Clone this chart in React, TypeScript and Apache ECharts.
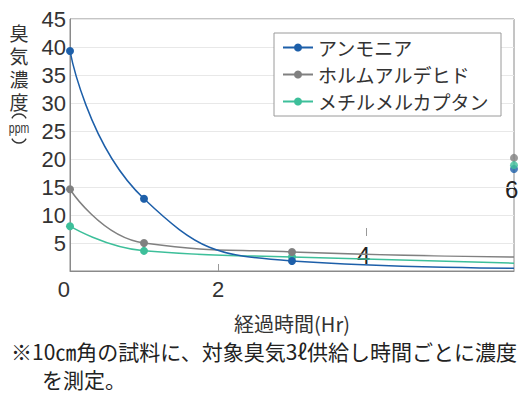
import React, { useEffect, useRef } from "react";
import * as echarts from "echarts";

const seriesNames = ["アンモニア", "ホルムアルデヒド", "メチルメルカプタン"];
const seriesColors = ["#1d5fa9", "#808080", "#3dbf9a"];
const hours = [0, 1, 3, 6];
const ammonia = [39.3, 12.9, 1.8, 0.5];
const formaldehyde = [14.6, 5.0, 3.4, 2.5];
const methylMercaptan = [8.0, 3.6, 2.5, 1.4];
const endDots = [18.2, 20.2, 18.9];
const endHour = 6;
const markedPoints = 3;
const xTickLabels = [0, 2];
const yTitleChars = ["臭", "気", "濃", "度"];
const yUnit = "ppm";
const xTitle = "経過時間(Hr)";
const note1 = "※10㎝角の試料に、対象臭気3ℓ供給し時間ごとに濃度";
const note2 = "を測定。";

const CJK = "'Noto Sans CJK JP', 'Noto Sans', sans-serif";
const NUM = "'Liberation Sans', 'Noto Sans', sans-serif";

export default function App() {
  const ref = useRef<HTMLDivElement>(null);
  useEffect(() => {
    if (!ref.current) return;
    const chart = echarts.init(ref.current, null, { renderer: "svg" });
    const all = [ammonia, formaldehyde, methylMercaptan];
    const lineSeries = all.map((vals, i) => ({
      name: seriesNames[i],
      type: "line",
      smooth: true,
      symbol: "circle",
      symbolSize: 8,
      lineStyle: { width: 1.5, color: seriesColors[i] },
      itemStyle: { color: seriesColors[i] },
      data: vals.map((v, j) =>
        j < markedPoints ? [hours[j], v] : { value: [hours[j], v], symbolSize: 0 }
      ),
      z: 3 - i + 2,
    }));
    const titleChars = yTitleChars.map((c, i) => ({
      type: "text",
      x: 19,
      y: 32 + i * 23,
      style: {
        text: c,
        fontFamily: CJK,
        fontSize: 19,
        lineHeight: 19,
        fill: "#333",
        align: "center",
        verticalAlign: "middle",
      },
    }));
    chart.setOption({
      animation: false,
      grid: {
        left: 70,
        right: 15,
        top: 19,
        bottom: 127,
        show: true,
        borderColor: "#8a8a8a",
        borderWidth: 1,
      },
      legend: {
        data: seriesNames,
        orient: "vertical",
        left: 274,
        top: 33,
        padding: [5, 12, 5, 8],
        itemGap: 8,
        itemWidth: 30,
        itemHeight: 10,
        backgroundColor: "#fff",
        borderColor: "#9a9a9a",
        borderWidth: 1,
        textStyle: { fontFamily: CJK, fontSize: 19, color: "#333" },
      },
      xAxis: {
        type: "value",
        min: 0,
        max: 6,
        interval: 2,
        name: xTitle,
        nameLocation: "middle",
        nameGap: 42,
        nameTextStyle: { fontFamily: CJK, fontSize: 20, color: "#333" },
        axisLine: { lineStyle: { color: "#8a8a8a" } },
        axisTick: { show: true, inside: true, length: 7, customValues: [2], lineStyle: { color: "#999" } },
        axisLabel: {
          customValues: xTickLabels,
          fontFamily: NUM,
          fontSize: 22,
          color: "#333",
          margin: 7,
          alignMinLabel: "right",
        },
        splitLine: { show: false },
      },
      yAxis: {
        type: "value",
        min: 0,
        max: 45,
        interval: 5,
        axisLine: { show: true, lineStyle: { color: "#8a8a8a" } },
        axisTick: { show: false },
        axisLabel: {
          fontFamily: NUM,
          fontSize: 22,
          color: "#333",
          margin: 4,
          formatter: (v: number) => (v === 0 ? "" : String(v)),
        },
        splitLine: { lineStyle: { color: "#e8e8e8" } },
      },
      graphic: [
        ...titleChars,
        {
          type: "arc",
          shape: { cx: 19, cy: 122, r: 8, startAngle: Math.PI * 1.15, endAngle: Math.PI * 1.85 },
          style: { stroke: "#333", lineWidth: 1.3, fill: "none" },
        },
        {
          type: "text",
          x: 19,
          y: 128,
          scaleX: 0.75,
          style: { text: yUnit, fontFamily: NUM, fontSize: 14, lineHeight: 12, fill: "#333", align: "center", verticalAlign: "middle" },
        },
        {
          type: "arc",
          shape: { cx: 19, cy: 135, r: 8, startAngle: Math.PI * 0.15, endAngle: Math.PI * 0.85 },
          style: { stroke: "#333", lineWidth: 1.3, fill: "none" },
        },
        {
          type: "text",
          left: 357,
          top: 243,
          style: { text: "4", fontFamily: NUM, fontSize: 24, fill: "#222" },
        },
        {
          type: "text",
          left: 505,
          top: 177,
          style: { text: "6", fontFamily: NUM, fontSize: 24, fill: "#222" },
        },
        {
          type: "line",
          shape: { x1: 366.5, y1: 228, x2: 366.5, y2: 236 },
          style: { stroke: "#999", lineWidth: 1 },
        },
        {
          type: "text",
          left: 11,
          top: 340,
          style: { text: note1, fontFamily: CJK, fontSize: 21, fill: "#222" },
        },
        {
          type: "text",
          left: 42,
          top: 368,
          style: { text: note2, fontFamily: CJK, fontSize: 21, fill: "#222" },
        },
      ],
      series: [
        ...lineSeries,
        {
          name: "end",
          type: "scatter",
          symbol: "circle",
          symbolSize: 8,
          z: 6,
          data: endDots.map((v, i) => ({
            value: [endHour, v],
            itemStyle: { color: seriesColors[i] },
          })),
        },
      ],
    });
    return () => chart.dispose();
  }, []);
  return (
    <div
      ref={ref}
      style={{ position: "absolute", left: 0, top: 0, width: 529, height: 398, background: "#fff" }}
    />
  );
}
